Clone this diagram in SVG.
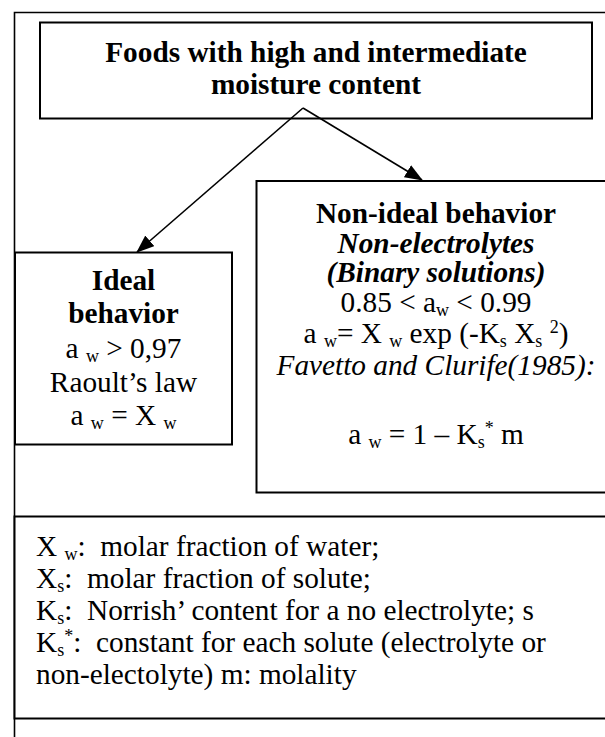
<svg xmlns="http://www.w3.org/2000/svg" width="605" height="737" viewBox="0 0 605 737">
<defs>
<style>
text{font-family:"Liberation Serif","Times New Roman",serif;font-size:29.3px;fill:#000;white-space:pre}
.b{font-weight:bold}
.i{font-style:italic}
.box{fill:#fff;stroke:#000;stroke-width:2}
.ln{stroke:#000;stroke-width:1.6;fill:none}
.c{text-anchor:middle}
</style>
<marker id="ah" markerWidth="18" markerHeight="14" refX="17" refY="7" orient="auto" markerUnits="userSpaceOnUse">
<path d="M0,0 L18,7 L0,14 Z" fill="#000"/>
</marker>
</defs>
<rect width="605" height="737" fill="#fff"/>
<g id="frame">
<path class="ln" d="M14.5,737 L14.5,12.5 L605,12.5" stroke-width="2"/>
</g>
<g id="top">
<rect class="box" x="40" y="22.5" width="552" height="96"/>
<text class="b c" x="316" y="62">Foods with high and intermediate</text>
<text class="b c" x="316" y="94">moisture content</text>
</g>
<g id="connectors">
<path class="ln" d="M303,108 L137,252" marker-end="url(#ah)"/>
<path class="ln" d="M303,108 L422,180" marker-end="url(#ah)"/>
</g>
<g id="ideal">
<rect class="box" x="15" y="252.5" width="217" height="192"/>
<text class="b c" x="123.5" y="290">Ideal</text>
<text class="b c" x="123.5" y="323">behavior</text>
<text class="c" x="123.5" y="358">a <tspan font-size="18" dy="4">w</tspan><tspan dy="-4"> &gt; 0,97</tspan></text>
<text class="c" x="123.5" y="392">Raoult’s law</text>
<text class="c" x="123.5" y="425">a <tspan font-size="18" dy="4">w</tspan><tspan dy="-4"> = X </tspan><tspan font-size="18" dy="4">w</tspan></text>
</g>
<g id="nonideal">
<rect class="box" x="256.5" y="181" width="360" height="311.5"/>
<text class="b c" x="436" y="223">Non-ideal behavior</text>
<text class="b i c" x="436" y="253">Non-electrolytes</text>
<text class="b i c" x="436" y="282">(Binary solutions)</text>
<text class="c" x="436" y="312">0.85 &lt; a<tspan font-size="18" dy="4">w</tspan><tspan dy="-4"> &lt; 0.99</tspan></text>
<text class="c" x="436" y="343">a <tspan font-size="18" dy="4">w</tspan><tspan dy="-4">= X </tspan><tspan font-size="18" dy="4">w</tspan><tspan dy="-4"> exp (-K</tspan><tspan font-size="18" dy="4">s</tspan><tspan dy="-4"> X</tspan><tspan font-size="18" dy="4">s</tspan><tspan dy="-4"> </tspan><tspan font-size="18" dy="-10">2</tspan><tspan dy="10">)</tspan></text>
<text class="i c" x="436" y="375">Favetto and Clurife(1985):</text>
<text class="c" x="436" y="444">a <tspan font-size="18" dy="4">w</tspan><tspan dy="-4"> = 1 – K</tspan><tspan font-size="18" dy="4">s</tspan><tspan font-size="18" dy="-14">*</tspan><tspan dy="10"> m</tspan></text>
</g>
<g id="legend">
<rect class="box" x="14.5" y="516.5" width="602" height="202"/>
<text x="36" y="556">X <tspan font-size="18" dy="4">w</tspan><tspan dy="-4">:  molar fraction of water;</tspan></text>
<text x="36" y="588">X<tspan font-size="18" dy="4">s</tspan><tspan dy="-4">:  molar fraction of solute;</tspan></text>
<text x="36" y="620">K<tspan font-size="18" dy="4">s</tspan><tspan dy="-4">:  Norrish’ content for a no electrolyte; s</tspan></text>
<text x="36" y="652">K<tspan font-size="18" dy="4">s</tspan><tspan font-size="18" dy="-14">*</tspan><tspan dy="10">:  constant for each solute (electrolyte or</tspan></text>
<text x="36" y="684">non-electolyte) m: molality</text>
</g>
</svg>
